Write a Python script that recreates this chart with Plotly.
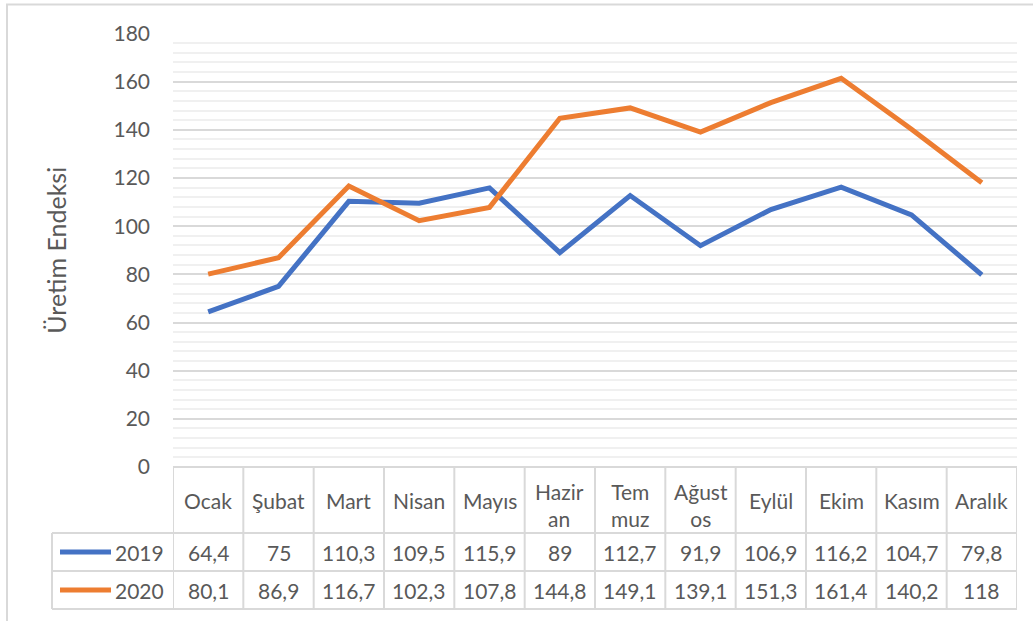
import plotly.graph_objects as go

months = ["Ocak", "Şubat", "Mart", "Nisan", "Mayıs", "Haziran", "Temmuz",
          "Ağustos", "Eylül", "Ekim", "Kasım", "Aralık"]
month_labels = ["Ocak", "Şubat", "Mart", "Nisan", "Mayıs", "Hazir<br>an", "Tem<br>muz",
                "Ağust<br>os", "Eylül", "Ekim", "Kasım", "Aralık"]
series_names = ["2019", "2020"]
values_2019 = [64.4, 75, 110.3, 109.5, 115.9, 89, 112.7, 91.9, 106.9, 116.2, 104.7, 79.8]
values_2020 = [80.1, 86.9, 116.7, 102.3, 107.8, 144.8, 149.1, 139.1, 151.3, 161.4, 140.2, 118]
colors = ["#4472C4", "#ED7D31"]
y_ticks = [0, 20, 40, 60, 80, 100, 120, 140, 160, 180]

W, H = 1033, 621
FONT = "Lato, Open Sans, sans-serif"
TXT = "#595959"
GRID = "#d9d9d9"
FS = 21

# pixel layout
px_left, px_right = 173, 1017
px_top, px_zero = 33.5, 467
row1_bot, row2_bot, row3_bot = 533, 571, 609
legend_left = 52

def fx(px):
    return px / W

def fy(py):
    return 1 - py / H

x_idx = list(range(len(months)))

fig = go.Figure()
for name, vals, col in zip(series_names, [values_2019, values_2020], colors):
    fig.add_trace(go.Scatter(
        x=x_idx, y=vals, mode="lines", name=name,
        line=dict(color=col, width=5, shape="linear"),
        showlegend=False, hoverinfo="x+y",
    ))

fig.update_layout(
    width=W, height=H,
    margin=dict(l=0, r=0, t=0, b=0, autoexpand=False),
    paper_bgcolor="white", plot_bgcolor="white",
    font=dict(family=FONT, color=TXT, size=FS),
    xaxis=dict(
        domain=[fx(px_left), fx(px_right)],
        range=[-0.5, len(months) - 0.5],
        showticklabels=False, showgrid=False, zeroline=False,
        showline=False, fixedrange=True,
    ),
    yaxis=dict(
        domain=[fy(px_zero), fy(px_top)],
        range=[0, 180],
        tickvals=y_ticks,
        showgrid=True, gridcolor=GRID, gridwidth=2,
        minor=dict(dtick=4, showgrid=True, gridcolor="#f0f0f0", gridwidth=2),
        zeroline=False, showline=False,
        ticks="", ticklabelstandoff=22,
        tickfont=dict(size=FS, color=TXT),
        title=dict(text="Üretim Endeksi", standoff=39, font=dict(size=25, color=TXT)),
        fixedrange=True,
    ),
)

shapes = []
line_style = dict(color=GRID, width=2)
# outer chart border
shapes.append(dict(type="rect", xref="paper", yref="paper",
                   x0=fx(7), x1=fx(1040), y0=fy(640), y1=fy(4.5),
                   line=dict(color="#d9d9d9", width=2), layer="below"))
# horizontal table lines
shapes.append(dict(type="line", xref="x", yref="paper", x0=-0.5, x1=len(months) - 0.5,
                   y0=fy(px_zero), y1=fy(px_zero), line=line_style))
for yy in [row1_bot, row2_bot, row3_bot]:
    shapes.append(dict(type="line", xref="paper", yref="paper", x0=fx(legend_left), x1=fx(px_right),
                       y0=fy(yy), y1=fy(yy), line=line_style))
# vertical table lines
for i in range(len(months) + 1):
    shapes.append(dict(type="line", xref="x", yref="paper", x0=i - 0.5, x1=i - 0.5,
                       y0=fy(px_zero), y1=fy(row3_bot), line=line_style))
shapes.append(dict(type="line", xref="paper", yref="paper", x0=fx(legend_left), x1=fx(legend_left),
                   y0=fy(row1_bot), y1=fy(row3_bot), line=line_style))

annotations = []
# header
for i, lab in enumerate(month_labels):
    yc = 500 if "<br>" not in lab else 505
    annotations.append(dict(x=i, y=fy(yc), xref="x", yref="paper",
                            text=lab, showarrow=False, font=dict(size=FS, color=TXT),
                            xanchor="center", yanchor="middle"))

def fmt(v):
    s = f"{v:g}"
    return s.replace(".", ",")

row_centers = [(row1_bot + row2_bot) / 2, (row2_bot + row3_bot) / 2]
for name, vals, col, yc in zip(series_names, [values_2019, values_2020], colors, row_centers):
    for i, v in enumerate(vals):
        annotations.append(dict(x=i, y=fy(yc), xref="x", yref="paper", text=fmt(v),
                                showarrow=False, font=dict(size=FS, color=TXT),
                                xanchor="center", yanchor="middle"))
    # legend key
    shapes.append(dict(type="line", xref="paper", yref="paper", x0=fx(60), x1=fx(111),
                       y0=fy(yc), y1=fy(yc), line=dict(color=col, width=5)))
    annotations.append(dict(x=fx(166), y=fy(yc), xref="paper", yref="paper", text=name,
                            showarrow=False, font=dict(size=FS, color=TXT),
                            xanchor="right", yanchor="middle"))

fig.update_layout(shapes=shapes, annotations=annotations)
fig.write_html("out.html", config={"displayModeBar": False},
               post_script="document.body.style.margin='0px';")
